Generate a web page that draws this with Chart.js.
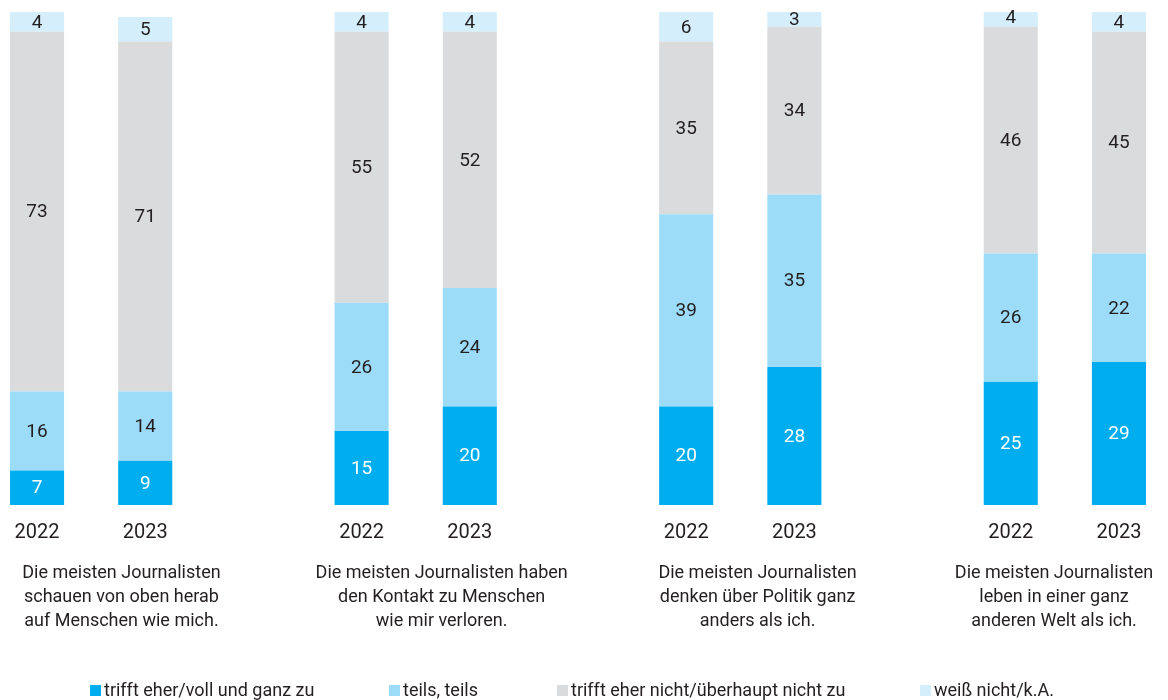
<!DOCTYPE html>
<html>
<head>
<meta charset="utf-8">
<script src="https://cdn.jsdelivr.net/npm/chart.js@4.4.1/dist/chart.umd.min.js"></script>
<style>
  html, body { margin: 0; padding: 0; background: #fff; }
  #wrap { position: relative; width: 1168px; height: 700px; }
  #legend { position: absolute; left: 0; top: 679px; width: 1168px; height: 22px;
            font-family: 'Liberation Sans Narrow', 'Arial Narrow', Roboto, sans-serif; font-size: 18px; color: #231F20; }
  .li { position: absolute; top: 0; white-space: nowrap; line-height: 22px; }
  .sw { display: inline-block; width: 11px; height: 11px; margin-right: 3px; vertical-align: 0px; }
</style>
</head>
<body>
<div id="wrap">
  <canvas id="c" width="1168" height="700"></canvas>
  <div id="legend"></div>
</div>
<script>
const years = ['2022', '2023'];
const statements = [
  ['Die meisten Journalisten', 'schauen von oben herab', 'auf Menschen wie mich.'],
  ['Die meisten Journalisten haben', 'den Kontakt zu Menschen', 'wie mir verloren.'],
  ['Die meisten Journalisten', 'denken über Politik ganz', 'anders als ich.'],
  ['Die meisten Journalisten', 'leben in einer ganz', 'anderen Welt als ich.']
];
const seriesLabels = ['trifft eher/voll und ganz zu', 'teils, teils', 'trifft eher nicht/überhaupt nicht zu', 'weiß nicht/k.A.'];
// order: statement1 2022, 2023, statement2 2022, 2023, ...
const trifftZu    = [7, 9, 15, 20, 20, 28, 25, 29];
const teils       = [16, 14, 26, 24, 39, 35, 26, 22];
const trifftNicht = [73, 71, 55, 52, 35, 34, 46, 45];
const weissNicht  = [4, 5, 4, 4, 6, 3, 4, 4];

const colors = ['#00AEEF', '#9DDCF9', '#DADBDC', '#D4EEFB'];
const labelColors = ['#FFFFFF', '#231F20', '#231F20', '#231F20'];
const FONT = "'Liberation Sans Narrow', 'Arial Narrow', Roboto, sans-serif";

// slot position of each bar: group*3 + year index (gap slot between groups)
const slot = i => Math.floor(i / 2) * 3 + (i % 2);
const toPoints = arr => arr.map((v, i) => ({ x: slot(i), y: v }));
const yearTicks = trifftZu.map((_, i) => slot(i));
const statementTickPos = [0.78, 3.74, 6.66, 9.4];

const series = [trifftZu, teils, trifftNicht, weissNicht];
const datasets = series.map((arr, k) => ({
  label: seriesLabels[k],
  data: toPoints(arr),
  backgroundColor: colors[k],
  borderWidth: 0,
  categoryPercentage: 1,
  barPercentage: 0.5
}));

const valueLabels = {
  id: 'valueLabels',
  afterDatasetsDraw(chart) {
    const ctx = chart.ctx;
    ctx.save();
    ctx.font = '19px ' + FONT;
    ctx.textAlign = 'center';
    ctx.textBaseline = 'middle';
    chart.data.datasets.forEach((ds, k) => {
      const meta = chart.getDatasetMeta(k);
      meta.data.forEach((el, i) => {
        const v = ds.data[i].y;
        ctx.fillStyle = labelColors[k];
        ctx.fillText(String(v), el.x, (el.y + el.base) / 2 + 1);
      });
    });
    ctx.restore();
  }
};

const noSidePadding = s => { s.paddingLeft = 0; s.paddingRight = 0; };

const chart = new Chart(document.getElementById('c'), {
  type: 'bar',
  data: { datasets },
  options: {
    responsive: false,
    animation: false,
    layout: { padding: { left: 10, right: 22, top: 12, bottom: 67 } },
    plugins: { legend: { display: false }, tooltip: { enabled: false } },
    scales: {
      x: {
        type: 'linear', stacked: true, offset: false,
        min: -0.25, max: 10.25,
        grid: { display: false, drawTicks: false },
        border: { display: false },
        afterFit: noSidePadding,
        afterBuildTicks: axis => { axis.ticks = yearTicks.map(v => ({ value: v })); },
        ticks: {
          autoSkip: false, maxRotation: 0, padding: 16,
          color: '#231F20',
          font: { family: FONT, size: 20, lineHeight: '24px' },
          callback: v => years[Math.round(v) % 3]
        }
      },
      x2: {
        type: 'linear', position: 'bottom', offset: false,
        min: -0.25, max: 10.25,
        grid: { display: false, drawTicks: false },
        border: { display: false },
        afterFit: noSidePadding,
        afterBuildTicks: axis => { axis.ticks = statementTickPos.map(v => ({ value: v })); },
        ticks: {
          autoSkip: false, maxRotation: 0, padding: 0,
          color: '#231F20',
          font: { family: FONT, size: 18, lineHeight: '24px' },
          callback: (v, idx) => statements[idx]
        }
      },
      y: {
        stacked: true, display: false, min: 0, max: 100
      }
    }
  },
  plugins: [valueLabels]
});

// legend built from the datasets
const legendPos = [90, 389, 557, 920];
const legend = document.getElementById('legend');
chart.data.datasets.forEach((ds, k) => {
  const d = document.createElement('div');
  d.className = 'li';
  d.style.left = legendPos[k] + 'px';
  const sw = document.createElement('span');
  sw.className = 'sw';
  sw.style.background = ds.backgroundColor;
  d.appendChild(sw);
  d.appendChild(document.createTextNode(ds.label));
  legend.appendChild(d);
});
</script>
</body>
</html>
